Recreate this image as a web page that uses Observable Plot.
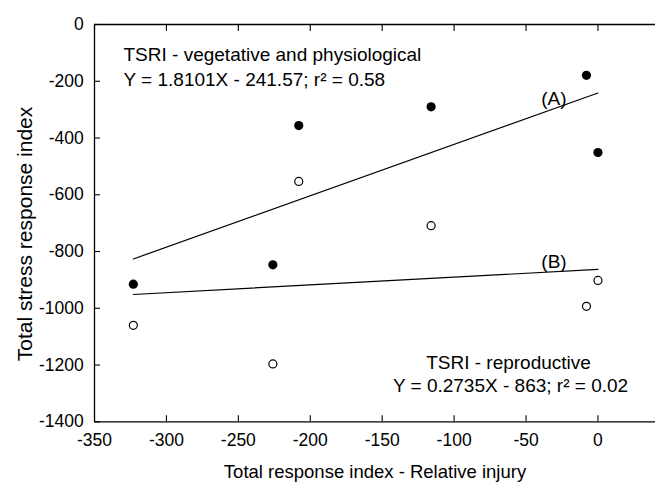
<!DOCTYPE html>
<html><head><meta charset="utf-8">
<script src="https://cdn.jsdelivr.net/npm/d3@7"></script>
<script src="https://cdn.jsdelivr.net/npm/@observablehq/plot@0.6"></script>
<style>body{margin:0;background:#fff}</style>
</head><body><div id="chart"></div>
<script>
// Data
const injury = [-323, -226, -208, -116, -8, 0];
const vegetative = [-915, -847, -356, -290, -179, -451];
const reproductive = [-1060, -1196, -553, -709, -993, -902];
const xTicks = [-350, -300, -250, -200, -150, -100, -50, 0];
const yTicks = [0, -200, -400, -600, -800, -1000, -1200, -1400];
const fitNames = ["(A)", "(B)"];
const fitSlopes = [1.8101, 0.2735];
const fitIntercepts = [-241.57, -863];
const xDomain = [-350, 40];
const yDomain = [-1400, 0];

const vegData = injury.map((x, i) => ({x, y: vegetative[i]}));
const repData = injury.map((x, i) => ({x, y: reproductive[i]}));
const [xmin, xmax] = d3.extent(injury);
const fitData = fitNames.flatMap((name, k) => [xmin, xmax].map(x => ({name, x, y: fitSlopes[k] * x + fitIntercepts[k]})));

const font = "'Liberation Sans', Arial, sans-serif";
const T = 6; // tick length, drawn inward
const chart = Plot.plot({
  width: 655, height: 486,
  marginLeft: 94, marginRight: 0, marginTop: 24, marginBottom: 64.7,
  style: {fontFamily: font, background: "#fff", color: "#000"},
  x: {domain: xDomain},
  y: {domain: yDomain},
  marks: [
    // frame lines (top, bottom, left)
    Plot.ruleY(d3.extent(yDomain), {stroke: "#000", strokeWidth: 1.3}),
    Plot.ruleX([xDomain[0]], {stroke: "#000", strokeWidth: 1.3}),
    // inward ticks (outward ticks shifted inside by their length)
    Plot.axisX({anchor: "bottom", ticks: xTicks, tickSize: T, dy: -T, tickFormat: () => "", label: null, strokeWidth: 1.1}),
    Plot.axisX({anchor: "top", ticks: xTicks, tickSize: T, dy: T, tickFormat: () => "", label: null, strokeWidth: 1.1}),
    Plot.axisY({anchor: "left", ticks: yTicks, tickSize: T, dx: T, tickFormat: () => "", label: null, strokeWidth: 1.1}),
    // tick labels
    Plot.axisX({anchor: "bottom", ticks: xTicks, tickSize: 0, tickPadding: 11.5, label: null, fontSize: 17.5, tickFormat: d => String(d)}),
    Plot.axisY({anchor: "left", ticks: yTicks, tickSize: 0, tickPadding: 10.7, label: null, fontSize: 17.5, tickFormat: d => String(d)}),
    // regression lines
    Plot.line(fitData, {x: "x", y: "y", z: "name", stroke: "#000", strokeWidth: 1.2}),
    // points
    Plot.dot(vegData, {x: "x", y: "y", r: 4.6, fill: "#000", stroke: "none"}),
    Plot.dot(repData, {x: "x", y: "y", r: 4, fill: "#fff", stroke: "#000", strokeWidth: 1.2}),
    // annotations
    Plot.text(["TSRI - vegetative and physiological"], {frameAnchor: "top-left", textAnchor: "start", dx: 29, dy: 23.2, fontSize: 19, fill: "#000"}),
    Plot.text(["Y = 1.8101X - 241.57; r\u00B2 = 0.58"], {frameAnchor: "top-left", textAnchor: "start", dx: 29, dy: 48.2, fontSize: 19, fill: "#000"}),
    Plot.text(["TSRI - reproductive"], {frameAnchor: "bottom-left", textAnchor: "middle", dx: 414, dy: -52.4, fontSize: 19, fill: "#000"}),
    Plot.text(["Y = 0.2735X - 863; r\u00B2 = 0.02"], {frameAnchor: "bottom-left", textAnchor: "middle", dx: 416, dy: -29.4, fontSize: 19, fill: "#000"}),
    Plot.text([fitNames[0]], {frameAnchor: "top-left", textAnchor: "middle", dx: 459.3, dy: 66.9, fontSize: 19, fill: "#000"}),
    Plot.text([fitNames[1]], {frameAnchor: "top-left", textAnchor: "middle", dx: 459.5, dy: 229.5, fontSize: 19, fill: "#000"}),
    // axis titles
    Plot.text(["Total response index - Relative injury"], {frameAnchor: "bottom", textAnchor: "middle", dy: 55.8, fontSize: 18.5, fill: "#000"}),
    Plot.text(["Total stress response index"], {frameAnchor: "left", textAnchor: "middle", rotate: -90, dx: -69, dy: 10.8, fontSize: 21, fill: "#000"})
  ]
});
document.getElementById("chart").appendChild(chart);
</script>
</body></html>
